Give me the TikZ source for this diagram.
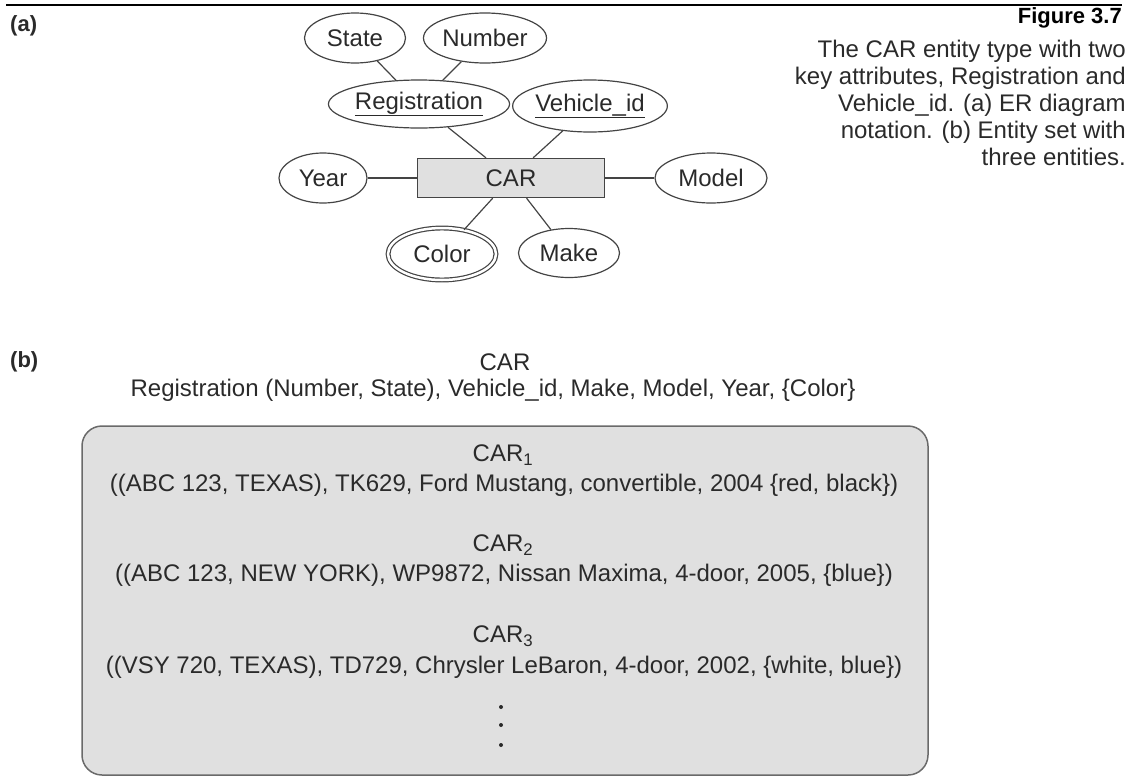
\documentclass[tikz,border=0pt]{standalone}
\usepackage{fontspec}
\setmainfont{Liberation Sans}
\usetikzlibrary{shapes.geometric}
\definecolor{inkgray}{HTML}{2A2A2A}
\definecolor{linegray}{HTML}{444444}
\definecolor{boxfill}{HTML}{E0E0E0}
\definecolor{boxline}{HTML}{6A6A6A}

\begin{document}
\begin{tikzpicture}[x=1pt, y=-1pt, inner sep=0pt]
		\tikzstyle{every node}=[font=\fontsize{24}{28}\selectfont, text=inkgray]
		\tikzstyle{attr}=[ellipse, draw=linegray, line width=1.2pt, minimum height=50pt]
		\tikzstyle{entity}=[rectangle, draw=linegray, fill=boxfill, line width=1.3pt, minimum width=187pt, minimum height=39pt]
		\tikzstyle{link}=[draw=linegray, line width=1.2pt]
			\useasboundingbox (0,0) rectangle (1128,777);
			\draw[line width=2.2pt, black] (6,5) -- (1122,5);

			\node[anchor=west, font=\bfseries\fontsize{22}{26}\selectfont] (parta) at (10,26) {(a)};
			\node[attr, minimum width=101pt] (state) at (355,38) {State};
			\node[attr, minimum width=123pt] (number) at (485,38) {Number};
			\node[attr, minimum width=168pt, minimum height=48pt] (reg) at (419,104) {\underline{Registration}};
			\node[attr, minimum width=149pt, minimum height=52pt] (vid) at (590,106) {\underline{Vehicle\_id}};
			\node[entity] (car) at (511,178) {CAR};
			\node[attr, minimum width=88pt] (year) at (323,178) {Year};
			\node[attr, minimum width=112pt] (model) at (711,178) {Model};
			\node[attr, double, double distance=2.5pt, minimum width=108pt, minimum height=52pt] (color) at (442,254) {Color};
			\node[attr, minimum width=101pt, minimum height=49pt] (make) at (569,253) {Make};

			\draw[link] (state) -- (reg);
			\draw[link] (number) -- (reg);
			\draw[link] (reg) -- (car);
			\draw[link] (vid) -- (car);
			\draw[link] (year) -- (car);
			\draw[link] (model) -- (car);
			\draw[link] (color) -- (car);
			\draw[link] (make) -- (car);

			\node[anchor=base east, font=\bfseries\fontsize{22}{26}\selectfont, text=black] (fig) at (1122,23) {Figure 3.7};
			\node[anchor=base east] (cap1) at (1126,57) {The CAR entity type with two};
			\node[anchor=base east] (cap2) at (1126,84) {key attributes, Registration and};
			\node[anchor=base east] (cap3) at (1126,111) {Vehicle\_id. (a) ER diagram};
			\node[anchor=base east] (cap4) at (1126,138) {notation. (b) Entity set with};
			\node[anchor=base east] (cap5) at (1126,165) {three entities.};

			\node[anchor=west, font=\bfseries\fontsize{22}{26}\selectfont] (partb) at (10,362) {(b)};
			\node (settitle) at (505,362) {CAR};
			\node (schema) at (493,390) {Registration (Number, State), Vehicle\_id, Make, Model, Year, \{Color\}};

			\draw[draw=boxline, fill=boxfill, line width=1.5pt, rounded corners=20pt] (82,426) rectangle (928,775);
			\node (car1) at (503,455) {CAR\textsubscript{1}};
			\node (row1) at (504,485) {((ABC 123, TEXAS), TK629, Ford Mustang, convertible, 2004 \{red, black\})};
			\node (car2) at (503,545) {CAR\textsubscript{2}};
			\node (row2) at (504,575) {((ABC 123, NEW YORK), WP9872, Nissan Maxima, 4-door, 2005, \{blue\})};
			\node (car3) at (503,636) {CAR\textsubscript{3}};
			\node (row3) at (504,667) {((VSY 720, TEXAS), TD729, Chrysler LeBaron, 4-door, 2002, \{white, blue\})};
			\foreach \yy in {707,725,745}
				\fill[inkgray] (501,\yy) circle (2pt);
		\end{tikzpicture}
\end{document}
